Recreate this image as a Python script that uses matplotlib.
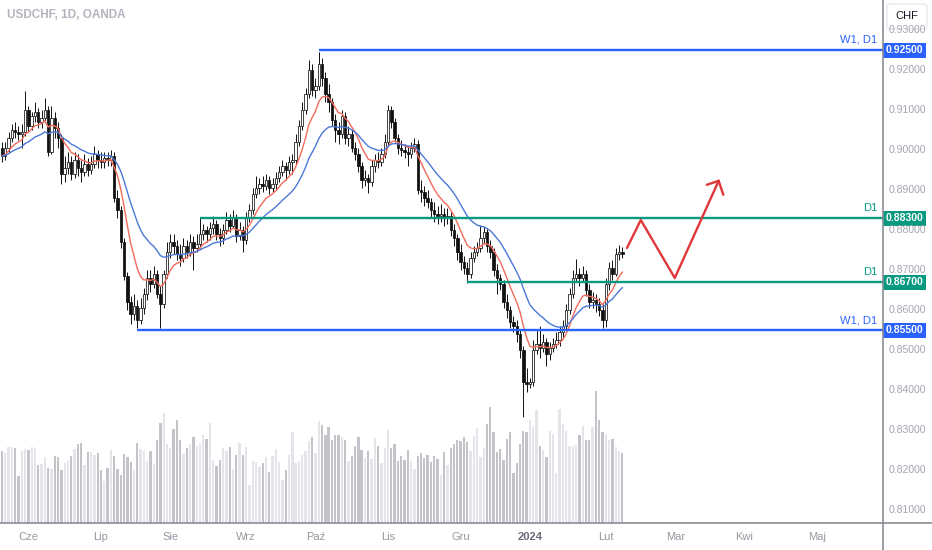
import numpy as np
import pandas as pd
import matplotlib

matplotlib.use('Agg')
import matplotlib.pyplot as plt
from matplotlib.patches import FancyBboxPatch, Rectangle

# --- 数据：USDCHF 日线 (2023-05-22 ~ 2024-02-08)，开盘价 = 前一根收盘价 ---
first_open = 0.9005
closes = [
    0.8985, 0.9005, 0.9030, 0.9050, 0.9045, 0.9040, 0.9045, 0.9100, 0.9060, 0.9085,
    0.9095, 0.9070, 0.9080, 0.9100, 0.8995, 0.9080, 0.9055, 0.9030, 0.8940, 0.8955,
    0.8970, 0.8940, 0.8975, 0.8955, 0.8945, 0.8965, 0.8950, 0.8965, 0.8990, 0.8975,
    0.8970, 0.8980, 0.8975, 0.8985, 0.8880, 0.8850, 0.8770, 0.8685, 0.8620, 0.8590,
    0.8610, 0.8575, 0.8605, 0.8640, 0.8680, 0.8665, 0.8690, 0.8640, 0.8615, 0.8690,
    0.8745, 0.8770, 0.8760, 0.8740, 0.8730, 0.8760, 0.8745, 0.8770, 0.8755, 0.8765,
    0.8790, 0.8800, 0.8790, 0.8805, 0.8815, 0.8790, 0.8780, 0.8800, 0.8825, 0.8810,
    0.8830, 0.8785, 0.8800, 0.8775, 0.8830, 0.8850, 0.8890, 0.8905, 0.8915, 0.8910,
    0.8925, 0.8905, 0.8915, 0.8930, 0.8945, 0.8960, 0.8950, 0.8970, 0.8975, 0.9020,
    0.9060, 0.9100, 0.9140, 0.9200, 0.9150, 0.9160, 0.9215, 0.9180, 0.9140, 0.9120,
    0.9075, 0.9050, 0.9040, 0.9085, 0.9030, 0.9040, 0.9005, 0.8990, 0.8960, 0.8925,
    0.8930, 0.8920, 0.8960, 0.8975, 0.8970, 0.8990, 0.9020, 0.9100, 0.9070, 0.9030,
    0.9005, 0.9000, 0.8995, 0.8990, 0.9005, 0.9015, 0.8900, 0.8895, 0.8880, 0.8870,
    0.8850, 0.8840, 0.8835, 0.8840, 0.8830, 0.8835, 0.8800, 0.8780, 0.8745, 0.8720,
    0.8705, 0.8690, 0.8730, 0.8745, 0.8755, 0.8780, 0.8795, 0.8760, 0.8745, 0.8700,
    0.8680, 0.8665, 0.8620, 0.8600, 0.8570, 0.8560, 0.8540, 0.8500, 0.8420, 0.8415,
    0.8420, 0.8500, 0.8515, 0.8505, 0.8520, 0.8490, 0.8505, 0.8515, 0.8525, 0.8545,
    0.8560, 0.8600, 0.8640, 0.8680, 0.8690, 0.8680, 0.8690, 0.8650, 0.8620, 0.8625,
    0.8615, 0.8600, 0.8575, 0.8665, 0.8705, 0.8690, 0.8740, 0.8745, 0.8740,
]
highs = [
    0.9020, 0.9020, 0.9045, 0.9065, 0.9070, 0.9060, 0.9065, 0.9147, 0.9110, 0.9095,
    0.9120, 0.9105, 0.9100, 0.9130, 0.9110, 0.9110, 0.9095, 0.9070, 0.9040, 0.8985,
    0.8995, 0.8985, 0.8995, 0.8990, 0.8975, 0.8990, 0.8980, 0.8985, 0.9010, 0.9000,
    0.8995, 0.8995, 0.8995, 0.9000, 0.8995, 0.8900, 0.8860, 0.8780, 0.8695, 0.8635,
    0.8640, 0.8625, 0.8630, 0.8655, 0.8700, 0.8700, 0.8710, 0.8700, 0.8660, 0.8700,
    0.8770, 0.8790, 0.8790, 0.8775, 0.8765, 0.8780, 0.8775, 0.8790, 0.8785, 0.8790,
    0.8830, 0.8815, 0.8810, 0.8820, 0.8835, 0.8825, 0.8805, 0.8815, 0.8845, 0.8840,
    0.8850, 0.8840, 0.8820, 0.8810, 0.8845, 0.8865, 0.8905, 0.8935, 0.8930, 0.8935,
    0.8940, 0.8935, 0.8930, 0.8945, 0.8960, 0.8975, 0.8970, 0.8985, 0.8990, 0.9040,
    0.9075, 0.9120, 0.9155, 0.9225, 0.9215, 0.9180, 0.9245, 0.9230, 0.9195, 0.9165,
    0.9130, 0.9090, 0.9070, 0.9100, 0.9095, 0.9060, 0.9050, 0.9020, 0.9005, 0.8970,
    0.8950, 0.8940, 0.8975, 0.8990, 0.8995, 0.9005, 0.9040, 0.9112, 0.9110, 0.9080,
    0.9040, 0.9025, 0.9015, 0.9010, 0.9020, 0.9030, 0.9025, 0.8925, 0.8910, 0.8900,
    0.8880, 0.8870, 0.8860, 0.8865, 0.8855, 0.8855, 0.8845, 0.8815, 0.8790, 0.8765,
    0.8735, 0.8720, 0.8745, 0.8760, 0.8770, 0.8813, 0.8810, 0.8805, 0.8775, 0.8755,
    0.8715, 0.8690, 0.8675, 0.8640, 0.8610, 0.8585, 0.8575, 0.8550, 0.8510, 0.8455,
    0.8430, 0.8525, 0.8550, 0.8560, 0.8540, 0.8530, 0.8520, 0.8530, 0.8545, 0.8560,
    0.8575, 0.8615, 0.8655, 0.8700, 0.8728, 0.8705, 0.8710, 0.8700, 0.8665, 0.8645,
    0.8640, 0.8630, 0.8615, 0.8680, 0.8720, 0.8725, 0.8755, 0.8762, 0.8758,
]
lows = [
    0.8970, 0.8975, 0.8995, 0.9020, 0.9030, 0.9025, 0.9005, 0.9035, 0.9045, 0.9050,
    0.9070, 0.9055, 0.9055, 0.9070, 0.8985, 0.8990, 0.9030, 0.9005, 0.8915, 0.8920,
    0.8940, 0.8925, 0.8930, 0.8935, 0.8920, 0.8935, 0.8935, 0.8940, 0.8955, 0.8955,
    0.8955, 0.8955, 0.8960, 0.8960, 0.8870, 0.8830, 0.8755, 0.8675, 0.8600, 0.8565,
    0.8575, 0.8555, 0.8565, 0.8590, 0.8625, 0.8645, 0.8655, 0.8630, 0.8556, 0.8605,
    0.8680, 0.8730, 0.8740, 0.8725, 0.8710, 0.8720, 0.8730, 0.8735, 0.8700, 0.8745,
    0.8755, 0.8775, 0.8770, 0.8775, 0.8790, 0.8775, 0.8760, 0.8765, 0.8790, 0.8795,
    0.8805, 0.8770, 0.8775, 0.8745, 0.8765, 0.8820, 0.8840, 0.8880, 0.8890, 0.8895,
    0.8900, 0.8890, 0.8895, 0.8900, 0.8920, 0.8935, 0.8925, 0.8940, 0.8940, 0.8965,
    0.9010, 0.9050, 0.9090, 0.9130, 0.9135, 0.9130, 0.9150, 0.9160, 0.9120, 0.9095,
    0.9060, 0.9020, 0.9015, 0.9030, 0.9015, 0.9010, 0.8995, 0.8975, 0.8945, 0.8905,
    0.8910, 0.8893, 0.8910, 0.8945, 0.8955, 0.8960, 0.8980, 0.9010, 0.9055, 0.9020,
    0.8990, 0.8985, 0.8980, 0.8960, 0.8980, 0.8995, 0.8890, 0.8870, 0.8860, 0.8855,
    0.8830, 0.8820, 0.8815, 0.8820, 0.8810, 0.8815, 0.8785, 0.8760, 0.8725, 0.8700,
    0.8690, 0.8668, 0.8680, 0.8720, 0.8735, 0.8745, 0.8765, 0.8745, 0.8730, 0.8685,
    0.8640, 0.8650, 0.8605, 0.8580, 0.8555, 0.8545, 0.8520, 0.8480, 0.8333, 0.8395,
    0.8405, 0.8410, 0.8490, 0.8480, 0.8495, 0.8460, 0.8475, 0.8495, 0.8505, 0.8510,
    0.8530, 0.8550, 0.8590, 0.8630, 0.8670, 0.8660, 0.8670, 0.8635, 0.8605, 0.8605,
    0.8595, 0.8585, 0.8556, 0.8558, 0.8650, 0.8675, 0.8685, 0.8725, 0.8730,
]
volumes = [
    72, 70, 76, 76, 75, 47, 72, 74, 73, 76, 75, 58, 59, 66, 55, 54, 67, 66, 53, 60,
    62, 67, 74, 79, 80, 58, 71, 71, 68, 70, 53, 42, 55, 73, 67, 54, 48, 69, 66, 61,
    53, 80, 74, 72, 62, 72, 59, 83, 100, 110, 79, 75, 94, 103, 83, 69, 75, 79, 86, 77,
    79, 88, 84, 100, 63, 57, 63, 75, 72, 76, 54, 68, 80, 68, 76, 38, 62, 61, 56, 60,
    66, 51, 67, 74, 61, 43, 53, 68, 91, 60, 62, 68, 72, 82, 86, 70, 102,
    98, 88, 96, 83, 88, 88, 86, 83, 62, 67, 77, 86, 73, 65, 72, 64, 85, 77, 60, 75,
    93, 75, 79, 62, 67, 63, 73, 62, 54, 67, 70, 65, 68, 61, 67, 64, 48, 71, 58, 75,
    79, 83, 82, 86, 81, 72, 87, 95, 66, 75, 99, 116, 91, 71, 74, 63, 84, 91, 50, 60,
    79, 92, 91, 103, 96, 113, 77, 73, 66, 92, 89, 50, 114, 99, 92, 77, 77, 78, 88, 97,
    83, 83, 96, 132, 103, 91, 89, 83, 84, 76, 72, 70,
]

# 水平位 (价格, 起始K线序号, 标签, 颜色)
level_prices = [0.925, 0.883, 0.867, 0.855]
level_start = [96, 60, 141, 41]
level_tags = ['W1, D1', 'D1', 'D1', 'W1, D1']
level_colors = ['#2962ff', '#089981', '#089981', '#2962ff']

# 红色预测折线 (K线序号, 价格)
arrow_k = [189.4, 193.6, 203.9, 217.2]
arrow_p = [0.8755, 0.8825, 0.8680, 0.8923]
arrow_head_k = [213.6, 218.6]
arrow_head_p = [0.8913, 0.8888]

# 时间轴标签 (K线序号)
month_idx = [8, 30, 51, 74, 95, 117, 139, 160, 183, 204, 225, 247]
month_names = ['Cze', 'Lip', 'Sie', 'Wrz', 'Paź', 'Lis', 'Gru', '2024', 'Lut', 'Mar', 'Kwi', 'Maj']
price_ticks = [0.81, 0.82, 0.83, 0.84, 0.85, 0.86, 0.87, 0.88, 0.89, 0.90, 0.91, 0.92, 0.93]

W, H = 932, 550
FONT = 'Liberation Sans'


def fx(px):
    return px / W


def fy(py):
    return 1 - py / H


closes = np.array(closes)
opens = np.concatenate([[first_open], closes[:-1]])
highs = np.array(highs)
lows = np.array(lows)
idx = np.arange(len(closes))
up = closes >= opens

fig = plt.figure(figsize=(W / 100, H / 100), dpi=100)
fig.patch.set_facecolor('white')
rect = [0, fy(523), fx(883), 523 / H]

# --- 成交量 (底层) ---
vax = fig.add_axes(rect)
vax.bar(idx, volumes, width=0.7, color=np.where(up, '#e3e5ea', '#c2c4ca'), linewidth=0)
vax.set_ylim(0, 523)
vax.set_xlim(-0.6, 267)
vax.axis('off')

# --- K线 ---
ax = fig.add_axes(rect)
ax.patch.set_alpha(0)
ax.set_xlim(-0.6, 267)
ax.set_ylim(0.80675, 0.9375)
ax.axis('off')

ax.vlines(idx, lows, highs, color='#111111', lw=0.7, zorder=2)
body_lo = np.minimum(opens, closes)
body_h = np.maximum(np.abs(closes - opens), 0.00015)
ax.bar(idx, body_h, bottom=body_lo, width=0.72, color=np.where(up, 'white', '#111111'),
       edgecolor='#111111', linewidth=0.55, zorder=3)

# 均线
s = pd.Series(closes)
ax.plot(idx, s.ewm(span=9, adjust=False).mean(), color='#f26b5b', lw=1.0, zorder=4)
ax.plot(idx, s.ewm(span=21, adjust=False).mean(), color='#4a78d8', lw=1.0, zorder=4)

# 水平位
for p, k0, tag, col in zip(level_prices, level_start, level_tags, level_colors):
    ax.hlines(p, k0, 267, color=col, lw=1.7, zorder=5)
    py = 50 + (0.925 - p) * 4000
    fig.text(fx(877), fy(py - 10), tag, color=col, fontsize=8, family=FONT, ha='right', va='center')

# 预测折线
ax.plot(arrow_k, arrow_p, color='#e0383a', lw=1.7, zorder=6, solid_capstyle='round')
for hk, hp in zip(arrow_head_k, arrow_head_p):
    ax.plot([hk, arrow_k[-1]], [hp, arrow_p[-1]], color='#e0383a', lw=1.7, zorder=6,
            solid_capstyle='round')

# --- 坐标轴边框 ---
fig.add_artist(plt.Line2D([0, 1], [fy(523), fy(523)], color='#8a8d96', lw=1.2))
fig.add_artist(plt.Line2D([fx(883), fx(883)], [0, 1], color='#8a8d96', lw=1.2))

# 时间轴
for k, name in zip(month_idx, month_names):
    px = 2 + 3.3 * k
    bold = name == '2024'
    fig.text(fx(px), fy(537), name, color='#6a6d78' if bold else '#9598a1', fontsize=8,
             family=FONT, fontweight='bold' if bold else 'normal', ha='center', va='center')

# 价格轴
for p in price_ticks:
    py = 50 + (0.925 - p) * 4000
    fig.text(fx(889), fy(py), f'{p:.5f}', color='#a3a6af', fontsize=7.5, family=FONT,
             ha='left', va='center')

for p, col in zip(level_prices, level_colors):
    py = 50 + (0.925 - p) * 4000
    fig.add_artist(Rectangle((fx(883), fy(py + 7.5)), fx(43), 15 / H, color=col, lw=0))
    fig.text(fx(904.5), fy(py), f'{p:.5f}', color='white', fontsize=7.5, family=FONT,
             fontweight='bold', ha='center', va='center')

# 币种按钮 (盖住 0.93000 的上半部分)
fig.add_artist(FancyBboxPatch((fx(887), fy(29)), fx(40), 25 / H,
                              boxstyle='round,pad=0,rounding_size=0.004',
                              facecolor='white', edgecolor='#e0e3eb', lw=0.8))
fig.text(fx(907), fy(16), 'CHF', color='#131722', fontsize=8, family=FONT, ha='center', va='center')

# 标题
fig.text(fx(7), fy(15), 'USDCHF, 1D, OANDA', color='#b2b5be', fontsize=8.5, family=FONT,
         fontweight='bold', ha='left', va='center')

fig.savefig('out.png', dpi=100, facecolor='white')
plt.close(fig)
